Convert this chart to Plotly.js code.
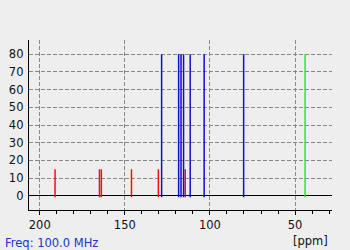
<!DOCTYPE html>
<html>
<head>
<meta charset="utf-8">
<script src="https://cdn.plot.ly/plotly-3.0.1.min.js"></script>
<style>html,body{margin:0;padding:0;background:#eeeeee;}#plot{width:350px;height:250px;}</style>
</head>
<body>
<div id="plot"></div>
<script>
// Peak positions (ppm) and intensities
const redPeaks = [191.0, 164.9, 163.8, 146.1, 130.3, 114.5];
const redHeights = [15, 15, 15, 15, 15, 15];
const bluePeaks = [128.4, 118.4, 117.0, 115.5, 111.6, 103.4, 80.2];
const blueHeights = [80, 80, 80, 80, 80, 80, 80];
const greenPeaks = [44.1];
const greenHeights = [80];
const xTickVals = [200, 150, 100, 50];
const xTickText = ['200', '150', '100', '50'];
const freqLabel = 'Freq: 100.0 MHz';
const unitLabel = '[ppm]';

function sticks(pos, h) {
  const x = [], y = [];
  pos.forEach((p, i) => { x.push(p, p, null); y.push(-0.8, h[i], null); });
  return {x, y};
}
function trace(pos, h, color) {
  const s = sticks(pos, h);
  return {x: s.x, y: s.y, type: 'scatter', mode: 'lines', line: {color: color, width: 1.5}, hoverinfo: 'skip', showlegend: false};
}
const data = [
  trace(redPeaks, redHeights, '#ee1111'),
  trace(bluePeaks, blueHeights, '#1010cc'),
  trace(greenPeaks, greenHeights, '#22ee22')
];
const layout = {
  width: 350, height: 250,
  margin: {l: 29, r: 18, t: 40, b: 40},
  paper_bgcolor: '#eeeeee', plot_bgcolor: '#eeeeee',
  font: {family: 'DejaVu Sans', size: 11.5, color: '#111111'},
  xaxis: {
    range: [206.3, 28.3], tickvals: xTickVals, ticktext: xTickText,
    showgrid: true, gridcolor: '#888888', griddash: '4px,2px', gridwidth: 1,
    zeroline: false, showline: true, linecolor: '#000000', linewidth: 1.2,
    ticks: 'outside', ticklen: 4, tickcolor: '#000000',
    minor: {dtick: 10, ticks: 'outside', ticklen: 3, tickcolor: '#000000', showgrid: false},
    tickfont: {size: 11.5}
  },
  yaxis: {
    range: [-8, 88], dtick: 10, tick0: 0,
    showgrid: true, gridcolor: '#888888', griddash: '4px,2px', gridwidth: 1,
    zeroline: true, zerolinecolor: '#000000', zerolinewidth: 1.2,
    showline: true, linecolor: '#000000', linewidth: 1.2,
    ticks: '', ticklabelstandoff: 2,
    tickfont: {size: 11.5}
  },
  annotations: [
    {text: freqLabel, xref: 'paper', yref: 'paper', x: -0.085, y: -0.14, xanchor: 'left', yanchor: 'top', showarrow: false, font: {size: 11.5, color: '#2233cc'}},
    {text: unitLabel, xref: 'paper', yref: 'paper', x: 0.993, y: -0.13, xanchor: 'right', yanchor: 'top', showarrow: false, font: {size: 11.5, color: '#111111'}}
  ]
};
Plotly.newPlot('plot', data, layout, {staticPlot: true, displayModeBar: false});
</script>
</body>
</html>
